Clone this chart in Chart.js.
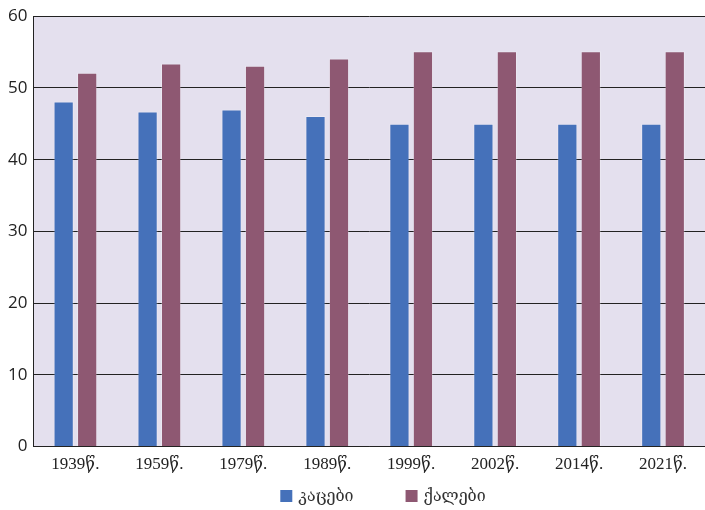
<!DOCTYPE html>
<html>
<head>
<meta charset="utf-8">
<script src="https://cdn.jsdelivr.net/npm/chart.js@4.4.0/dist/chart.umd.min.js"></script>
<style>
  html, body { margin: 0; padding: 0; background: #fff; }
  #wrap { width: 705px; height: 510px; }
</style>
</head>
<body>
<div id="wrap"><canvas id="popChart" width="705" height="510"></canvas></div>
<script>
// census years and shares by sex
var years = ['1939წ.', '1959წ.', '1979წ.', '1989წ.', '1999წ.', '2002წ.', '2014წ.', '2021წ.'];
var men = [48.1, 46.7, 47, 46.1, 45, 45, 45, 45];
var women = [52.1, 53.4, 53.1, 54.1, 55.1, 55.1, 55.1, 55.1];
var seriesNames = ['კაცები', 'ქალები'];
var seriesColors = ['#4571BA', '#8E5872'];
var yTicks = [0, 10, 20, 30, 40, 50, 60];

// plot area background
var areaFill = {
    id: 'areaFill',
    beforeDraw: function (chart) {
        var a = chart.chartArea;
        var c = chart.ctx;
        c.save();
        c.fillStyle = '#E4E0EE';
        c.fillRect(a.left, a.top, a.right - a.left, a.bottom - a.top);
        c.restore();
    }
};

// legend drawn under the axis, with wide spacing between entries
var bottomLegend = {
    id: 'bottomLegend',
    afterDraw: function (chart) {
        var c = chart.ctx;
        var gap = 52, box = 12, y = 497;
        c.save();
        c.font = '16px "DejaVu Serif", serif';
        c.textBaseline = 'middle';
        var items = chart.data.datasets.map(function (ds) {
            return { text: ds.label, color: ds.backgroundColor, w: box + 6 + c.measureText(ds.label).width };
        });
        var total = items.reduce(function (s, it) { return s + it.w; }, 0) + gap * (items.length - 1);
        var x = 383 - total / 2;
        items.forEach(function (it) {
            c.fillStyle = it.color;
            c.fillRect(x, y - box / 2 - 1, box, box);
            c.fillStyle = '#333';
            c.fillText(it.text, x + box + 6, y);
            x += it.w + gap;
        });
        c.restore();
    }
};

var ctx = document.getElementById('popChart').getContext('2d');
var popChart = new Chart(ctx, {
    type: 'bar',
    data: {
        labels: years,
        datasets: [
            {
                label: seriesNames[0],
                data: men,
                backgroundColor: seriesColors[0],
                borderColor: 'rgba(255,255,255,0.25)',
                borderWidth: 1,
                barPercentage: 0.86,
                categoryPercentage: 0.56,
            },
            {
                label: seriesNames[1],
                data: women,
                backgroundColor: seriesColors[1],
                borderColor: 'rgba(255,255,255,0.25)',
                borderWidth: 1,
                barPercentage: 0.86,
                categoryPercentage: 0.56,
            }
        ],
    },
    options: {
        responsive: false,
        animation: false,
        layout: {
            padding: { left: 2, right: 0, top: 7, bottom: 27 }
        },
        scales: {
            y: {
                min: 0,
                max: 60,
                afterBuildTicks: function (axis) {
                    axis.ticks = yTicks.map(function (v) { return { value: v }; });
                },
                grid: {
                    color: '#222',
                    lineWidth: 1,
                    drawTicks: false,
                },
                border: { color: '#222', width: 1 },
                ticks: {
                    color: '#222',
                    padding: 6,
                    font: { family: 'Open Sans', size: 17 },
                },
            },
            x: {
                grid: { display: false, drawTicks: false },
                border: { color: '#222', width: 1 },
                ticks: {
                    color: '#222',
                    padding: 8,
                    maxRotation: 0,
                    font: { family: '"Liberation Serif", "DejaVu Serif", serif', size: 17 },
                },
            },
        },
        plugins: {
            legend: { display: false },
            tooltip: { enabled: false },
        }
    },
    plugins: [areaFill, bottomLegend]
});
</script>
</body>
</html>
